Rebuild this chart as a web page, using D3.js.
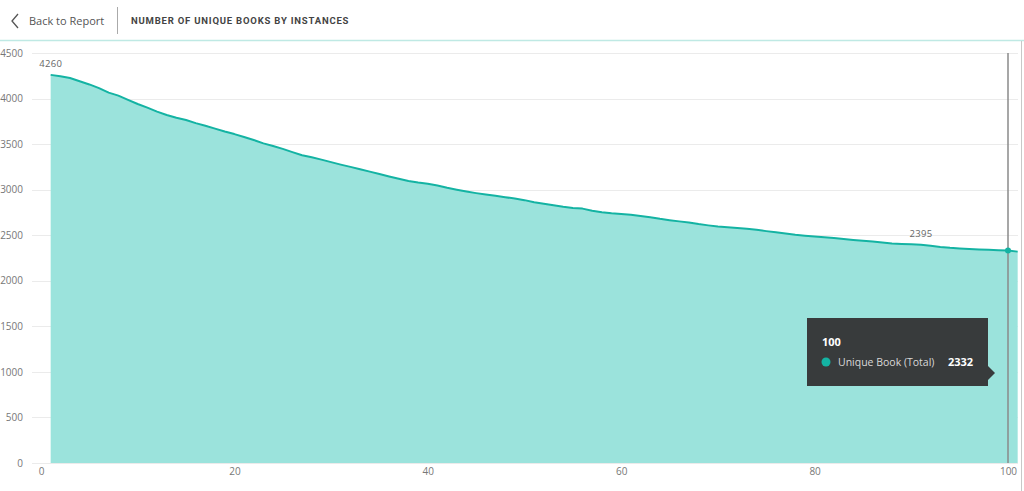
<!DOCTYPE html>
<html>
<head>
<meta charset="utf-8">
<script src="https://cdn.jsdelivr.net/npm/d3@7"></script>
<style>
  html, body { margin: 0; padding: 0; background: #fff; }
  svg { display: block; }
</style>
</head>
<body>
<svg id="chart" width="1024" height="491"></svg>
<script>
// ---- data ----
const instances = d3.range(1, 102);
const uniqueBooks = [
  4260, 4245, 4225, 4190, 4155, 4115, 4065, 4032, 3985, 3940,
  3900, 3856, 3820, 3790, 3765, 3730, 3702, 3670, 3638, 3610,
  3578, 3545, 3508, 3480, 3448, 3412, 3378, 3355, 3330, 3302,
  3275, 3250, 3224, 3198, 3172, 3145, 3120, 3095, 3078, 3065,
  3045, 3020, 3000, 2980, 2962, 2946, 2932, 2918, 2902, 2885,
  2862, 2845, 2828, 2812, 2800, 2792, 2768, 2752, 2740, 2732,
  2725, 2712, 2698, 2680, 2665, 2652, 2640, 2622, 2608, 2596,
  2588, 2578, 2570, 2560, 2545, 2532, 2520, 2505, 2495, 2485,
  2477, 2470, 2458, 2448, 2440, 2430, 2420, 2410, 2405, 2400,
  2395, 2385, 2372, 2362, 2355, 2348, 2343, 2340, 2336, 2332,
  2320
];
const yTicks = [0, 500, 1000, 1500, 2000, 2500, 3000, 3500, 4000, 4500];
const xTicks = [0, 20, 40, 60, 80, 100];
const labeledPoints = [1, 91];
const tooltipX = 100;
const seriesName = "Unique Book (Total)";
const title = "NUMBER OF UNIQUE BOOKS BY INSTANCES";
const backText = "Back to Report";

const data = instances.map((x, i) => ({ x, y: uniqueBooks[i] }));

const svg = d3.select("#chart");
const font = "'Open Sans', 'Noto Sans', sans-serif";

// ---- header ----
svg.append("rect").attr("x", 0).attr("y", 0).attr("width", 1024).attr("height", 40).attr("fill", "#fff");
svg.append("path").attr("d", "M18,14 L12,21 L18,28").attr("fill", "none").attr("stroke", "#555").attr("stroke-width", 1.3);
svg.append("text").attr("x", 29).attr("y", 25).text(backText)
  .attr("font-family", font).attr("font-size", 11).attr("fill", "#555");
svg.append("line").attr("x1", 117.5).attr("x2", 117.5).attr("y1", 7).attr("y2", 34).attr("stroke", "#aaa").attr("stroke-width", 1);
svg.append("text").attr("x", 131).attr("y", 24).text(title)
  .attr("font-family", "Roboto, 'DejaVu Sans', sans-serif").attr("font-weight", "bold")
  .attr("font-size", 9.5).attr("letter-spacing", 0.8).attr("fill", "#444");
svg.append("line").attr("x1", 0).attr("x2", 1024).attr("y1", 40.5).attr("y2", 40.5).attr("stroke", "#bfe9e4").attr("stroke-width", 1.5);
svg.append("line").attr("x1", 1021.5).attr("x2", 1021.5).attr("y1", 41).attr("y2", 491).attr("stroke", "#c8c8c8").attr("stroke-width", 1);

// ---- scales ----
const x = d3.scaleLinear().domain([0, 100]).range([41, 1008]);
const y = d3.scaleLinear().domain([0, 4500]).range([463, 53]);

// gridlines
svg.append("g").selectAll("line").data(yTicks).join("line")
  .attr("x1", 32).attr("x2", 1018)
  .attr("y1", d => Math.round(y(d)) + 0.5).attr("y2", d => Math.round(y(d)) + 0.5)
  .attr("stroke", "#ebebeb").attr("stroke-width", 1);

// y axis
const yAxis = d3.axisLeft(y).tickValues(yTicks).tickSize(0).tickPadding(0).tickFormat(d3.format("d"));
const gy = svg.append("g").attr("transform", "translate(23,0)").call(yAxis);
gy.select(".domain").remove();
gy.selectAll("text").attr("font-family", font).attr("font-size", 10).attr("fill", "#777");

// x axis
const xAxis = d3.axisBottom(x).tickValues(xTicks).tickSize(0).tickPadding(0).tickFormat(d3.format("d"));
const gx = svg.append("g").attr("transform", "translate(0,468)").call(xAxis);
gx.select(".domain").remove();
gx.selectAll("text").attr("font-family", font).attr("font-size", 10).attr("fill", "#777");

// area
const area = d3.area().x(d => x(d.x)).y0(y(0)).y1(d => y(d.y));
svg.append("path").datum(data).attr("d", area).attr("fill", "#9be3dc");
const line = d3.line().x(d => x(d.x)).y(d => y(d.y));
svg.append("path").datum(data).attr("d", line).attr("fill", "none").attr("stroke", "#14b3a3").attr("stroke-width", 2).attr("stroke-linejoin", "round");

// data labels
svg.append("g").selectAll("text").data(data.filter(d => labeledPoints.includes(d.x))).join("text")
  .attr("x", d => x(d.x))
  .attr("y", d => y(d.y) - 8)
  .attr("text-anchor", "middle")
  .attr("font-family", font).attr("font-size", 9.5).attr("letter-spacing", 0.3).attr("fill", "#666")
  .text(d => d.y);

// hover line + marker
const tp = data.find(d => d.x === tooltipX);
svg.append("line").attr("x1", x(tp.x)).attr("x2", x(tp.x)).attr("y1", 53).attr("y2", 463)
  .attr("stroke", "#8a8a8a").attr("stroke-width", 1.5);
svg.append("circle").attr("cx", x(tp.x)).attr("cy", y(tp.y)).attr("r", 3).attr("fill", "#14b3a3");

// tooltip
const tt = svg.append("g");
tt.append("rect").attr("x", 807).attr("y", 318).attr("width", 181).attr("height", 68).attr("fill", "#383b3c");
tt.append("path").attr("d", "M988,366 L995,373 L988,380 Z").attr("fill", "#383b3c");
tt.append("text").attr("x", 822).attr("y", 346).text(tp.x)
  .attr("font-family", font).attr("font-weight", "bold").attr("font-size", 11).attr("fill", "#fff");
tt.append("circle").attr("cx", 826).attr("cy", 362).attr("r", 4.5).attr("fill", "#14b3a3");
tt.append("text").attr("x", 838).attr("y", 366).text(seriesName)
  .attr("font-family", font).attr("font-size", 10.5).attr("fill", "#d8d8d8");
tt.append("text").attr("x", 948).attr("y", 366).text(tp.y)
  .attr("font-family", font).attr("font-weight", "bold").attr("font-size", 11).attr("fill", "#fff");
</script>
</body>
</html>
